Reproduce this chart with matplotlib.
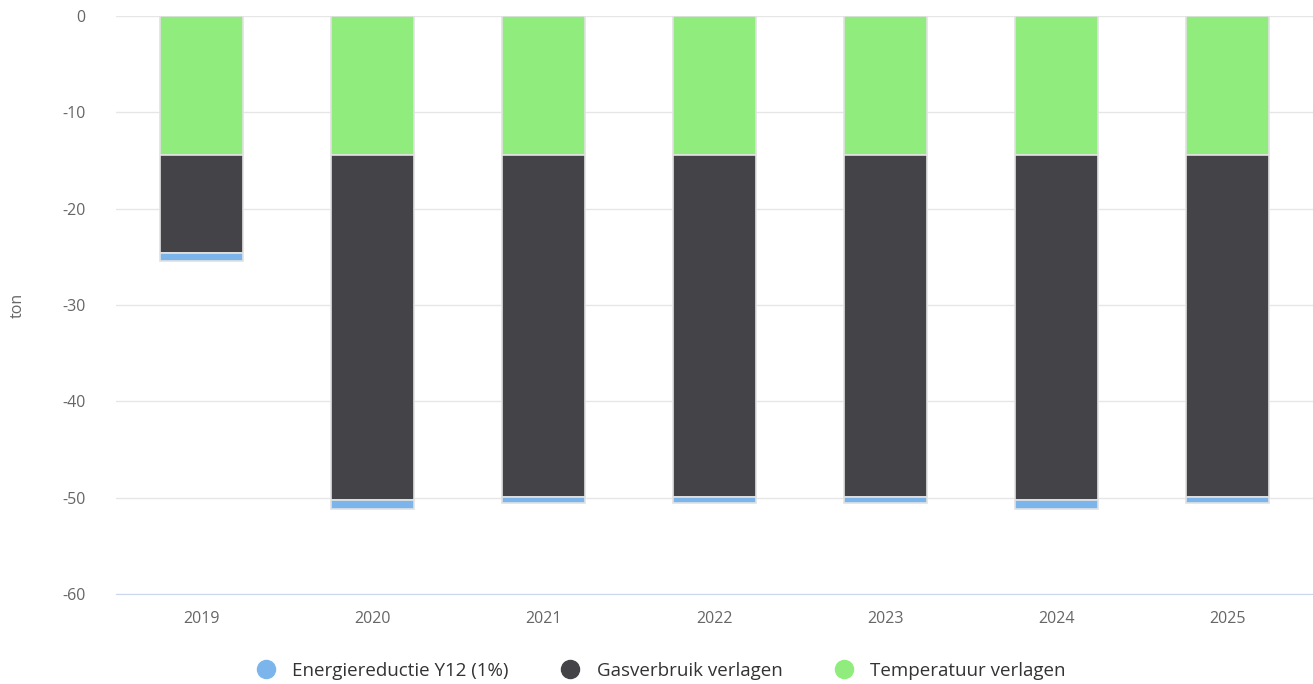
import matplotlib.pyplot as plt
import numpy as np
from matplotlib.lines import Line2D

years = ["2019", "2020", "2021", "2022", "2023", "2024", "2025"]
temperatuur = [-14.4, -14.4, -14.4, -14.4, -14.4, -14.4, -14.4]
gasverbruik = [-10.2, -35.8, -35.5, -35.5, -35.5, -35.8, -35.5]
energie = [-0.8, -0.95, -0.7, -0.7, -0.7, -0.95, -0.7]

plt.rcParams['font.family'] = ['Open Sans', 'DejaVu Sans']
plt.rcParams['axes.unicode_minus'] = False

fig = plt.figure(figsize=(13.13, 6.84), dpi=100)
ax = fig.add_axes([116 / 1313, 1 - 594 / 684, 1 - 116 / 1313, (594 - 16) / 684])

x = np.arange(len(years))
w = 0.48
edge = dict(edgecolor="#e2e2e2", linewidth=1.2)
ax.bar(x, temperatuur, w, color="#90ed7d", **edge)
ax.bar(x, gasverbruik, w, bottom=temperatuur, color="#434348", **edge)
bottom2 = np.array(temperatuur) + np.array(gasverbruik)
ax.bar(x, energie, w, bottom=bottom2, color="#7cb5ec", **edge)

ax.set_xlim(-0.5, len(years) - 0.5)
ax.set_ylim(-60, 0)
ax.set_yticks(range(-60, 1, 10))
ax.set_xticks(x)
ax.set_xticklabels(years)
ax.grid(axis="y", color="#e6e6e6", linewidth=1)
ax.set_axisbelow(True)
for s in ["top", "right", "left"]:
    ax.spines[s].set_visible(False)
ax.spines["bottom"].set_color("#ccd6eb")
ax.tick_params(axis="both", length=0, colors="#666666", labelsize=11.5)
ax.tick_params(axis="x", pad=12)
ax.tick_params(axis="y", pad=22)
fig.text(18 / 1313, 1 - 305 / 684, "ton", rotation=90, color="#666666", fontsize=11.5,
         ha="center", va="center")

labels = ["Energiereductie Y12 (1%)", "Gasverbruik verlagen", "Temperatuur verlagen"]
cols = ["#7cb5ec", "#434348", "#90ed7d"]
hs = [Line2D([], [], marker="o", linestyle="", markersize=13, color=c) for c in cols]
fig.legend(hs, labels, loc="center", bbox_to_anchor=(0.5, 1 - 671 / 684),
           ncol=3, frameon=False, fontsize=13.5, handletextpad=0.4, columnspacing=2.3,
           labelcolor="#333333")

fig.savefig("out.png", dpi=100)
